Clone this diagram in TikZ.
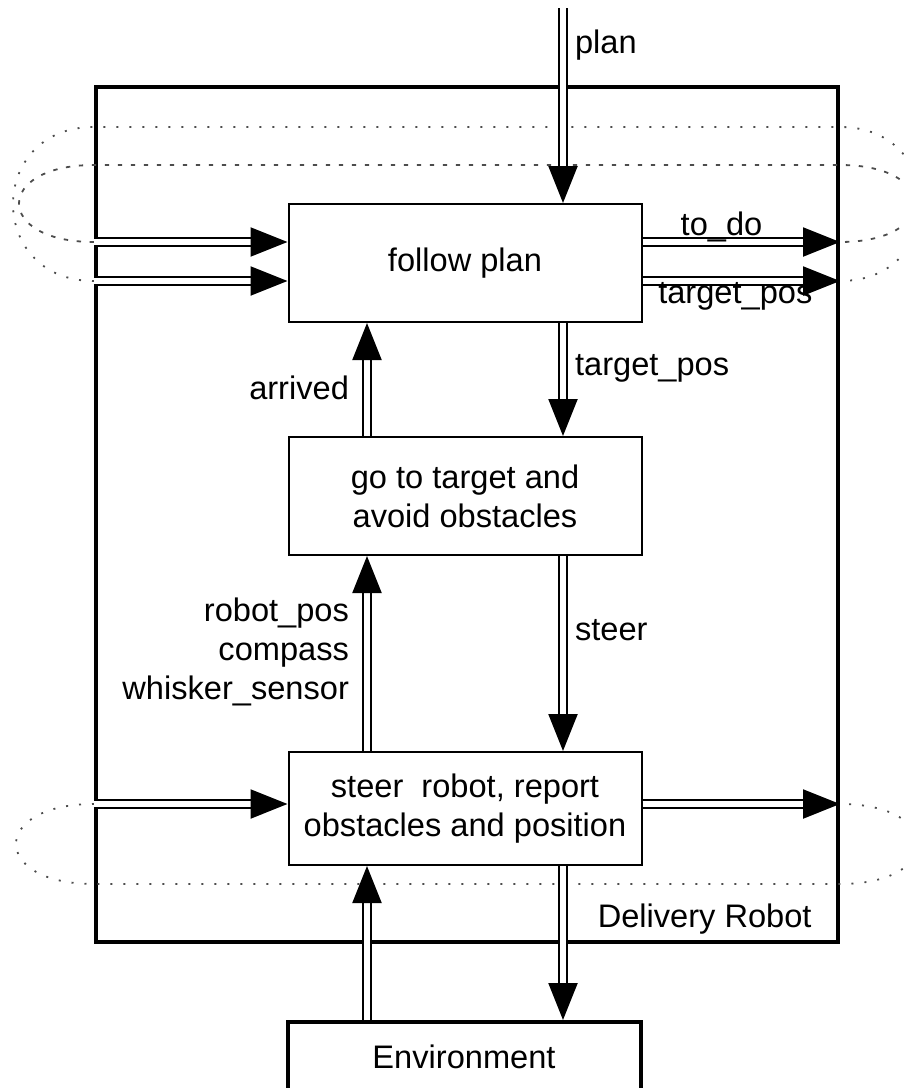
\documentclass[tikz,border=0pt]{standalone}
\usepackage{fontspec}
\setmainfont{Liberation Sans}
\usepackage{tikz}
\usetikzlibrary{arrows.meta}

\begin{document}
\begin{tikzpicture}[x=0.5pt, y=-0.5pt, >={Triangle[length=18.5pt,width=14.5pt]},
    font=\fontsize{16.3}{19.5}\selectfont]
\tikzstyle{block} = [draw, rectangle, fill=white, line width=1pt, minimum height=59pt, minimum width=176.5pt, align=center, inner sep=0pt]
\tikzstyle{frame} = [draw, rectangle, line width=2pt, inner sep=0pt]
\tikzstyle{flow} = [->, double, line width=1.1pt, double distance=2.6pt]
\tikzstyle{lbl} = [inner sep=5.5pt, align=right]
\tikzstyle{dotloop} = [draw=black!70, line width=0.9pt, dash pattern=on 1pt off 5.5pt]
\tikzstyle{dashloop} = [draw=black!70, line width=0.9pt, dash pattern=on 2.2pt off 4.3pt]

\useasboundingbox (0,0) rectangle (904,1088);
\clip (0,0) rectangle (904,1088);

% rows and columns that the arrows run along
\coordinate (top_dot) at (0,127);
\coordinate (top_dash) at (0,165);
\coordinate (row_a) at (0,242);
\coordinate (row_b) at (0,281);
\coordinate (row_c) at (0,804);
\coordinate (bot_dot) at (0,884);
\coordinate (col_l) at (367,0);
\coordinate (col_r) at (563,0);
\coordinate (plan_in) at (563,8);

% the robot frame first, the loops go over it
\node [frame, minimum width=371pt, minimum height=427.5pt] (robot) at (467,514.5) {};
\node [anchor=base east, inner sep=0pt] (robot_name) at (812,927) {Delivery Robot};

\draw [dotloop] (robot.west |- row_b) .. controls +(-108,0) and +(-108,0) .. (robot.west |- top_dot)
    -- (robot.east |- top_dot) .. controls +(108,0) and +(108,0) .. (robot.east |- row_b);
\draw [dashloop] (robot.west |- row_a) .. controls +(-100,0) and +(-100,0) .. (robot.west |- top_dash)
    -- (robot.east |- top_dash) .. controls +(100,0) and +(100,0) .. (robot.east |- row_a);
\draw [dotloop] (robot.west |- row_c) .. controls +(-104,0) and +(-104,0) .. (robot.west |- bot_dot)
    -- (robot.east |- bot_dot) .. controls +(104,0) and +(104,0) .. (robot.east |- row_c);

% We start by placing the blocks
\node [block] (follow_plan) at (465,263) {follow plan};
\node [block] (go_target) at (465,496) {go to target and\\avoid obstacles};
\node [block, minimum height=56.5pt] (steer_robot) at (465,808.5) {steer\ \ robot, report\\obstacles and position};
\node [block, line width=2pt, minimum height=35pt] (environment) at (464,1057) {Environment};

% connecting them
\draw [flow] (plan_in) -- node[lbl, right, pos=0.19] {plan} (follow_plan.north -| col_r);
\draw [flow] (robot.west |- row_a) -- (follow_plan.west |- row_a);
\draw [flow] (robot.west |- row_b) -- (follow_plan.west |- row_b);
\draw [flow] (follow_plan.east |- row_a) -- node[anchor=base, yshift=3.5pt, pos=0.4] {to\_do} (robot.east |- row_a);
\draw [flow] (follow_plan.east |- row_b) -- node[anchor=base, yshift=-11pt, pos=0.47] {target\_pos} (robot.east |- row_b);
\draw [flow] (follow_plan.south -| col_r) -- node[lbl, right, pos=0.4] {target\_pos} (go_target.north -| col_r);
\draw [flow] (go_target.north -| col_l) -- node[lbl, left=3pt, pos=0.43] {arrived} (follow_plan.south -| col_l);
\draw [flow] (go_target.south -| col_r) -- node[lbl, right, pos=0.38] {steer} (steer_robot.north -| col_r);
\draw [flow] (steer_robot.north -| col_l) -- node[lbl, left=3pt, pos=0.51] {robot\_pos\\compass\\whisker\_sensor} (go_target.south -| col_l);
\draw [flow] (robot.west |- row_c) -- (steer_robot.west |- row_c);
\draw [flow] (steer_robot.east |- row_c) -- (robot.east |- row_c);
\draw [flow] (steer_robot.south -| col_r) -- (environment.north -| col_r);
\draw [flow] (environment.north -| col_l) -- (steer_robot.south -| col_l);

\end{tikzpicture}
\end{document}
